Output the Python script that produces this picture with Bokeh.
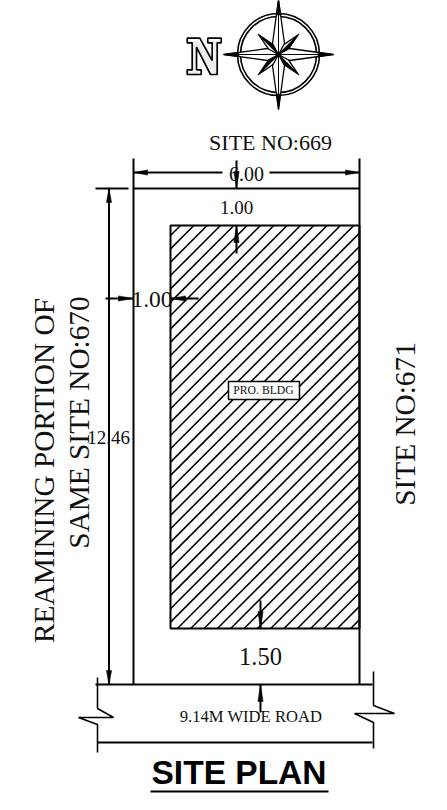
import numpy as np
from bokeh.plotting import figure
from bokeh.embed import file_html
from bokeh.resources import INLINE
from bokeh.core.properties import value

# --- site geometry (picture coordinates) ---
SITE_X = [133, 359]
SITE_TOP, SITE_BOTTOM = 188, 684
BLDG_X = [170, 359]
BLDG_Y = [225, 628]
HATCH_FIRST, HATCH_STEP = 405, 13.33
ROAD_LEFT = ([97, 97, 113, 78, 97, 97], [677, 708, 717, 717, 724, 752])
ROAD_RIGHT = ([373, 373, 394, 354, 373, 373], [671, 705, 713, 713, 722, 748])
LINES = [
    ([133, 133], [158, 684]), ([359, 359], [158, 684]), ([133, 359], [188, 188]),
    ([95, 128], [188, 188]), ([95, 372], [684, 684]), ([97, 372], [742, 742]),
    ([133, 222], [172, 172]), ([269, 359], [172, 172]), ([108.5, 108.5], [188, 684]),
    ([236, 236], [160, 188]), ([236, 236], [225, 253]), ([105, 133], [298, 298]),
    ([170, 198], [298, 298]), ([260, 260], [600, 628]), ([260, 260], [684, 712]),
    ([150, 328], [791, 791]),
]
# arrow tip x, tip y, direction x, direction y, length
ARROWS = [
    (133, 172, -1, 0, 14), (359, 172, 1, 0, 14), (108.5, 188, 0, -1, 14), (108.5, 684, 0, 1, 14),
    (236, 188, 0, 1, 17), (236, 225, 0, -1, 17), (133, 298, 1, 0, 15), (170, 298, -1, 0, 15),
    (260, 628, 0, 1, 17), (260, 684, 0, -1, 17),
]
LABEL_BOX = ([228, 299], [381, 399])

# --- text ---
LABELS = [
    ("SITE NO:669", 270, 142, 22, 0),
    ("6.00", 246, 173, 20, 0),
    ("1.00", 236, 207, 19, 0),
    ("1.00", 151.5, 298.5, 23.5, 0),
    ("12.46", 108, 436.5, 19, 0),
    ("1.50", 260, 655.5, 24.5, 0),
    ("9.14M WIDE ROAD", 250.5, 716, 16.6, 0),
    ("PRO. BLDG", 263, 390, 11.7, 0),
    ("REAMINING PORTION OF", 43, 470, 29.3, np.pi / 2),
    ("SAME SITE NO:670", 78, 422, 29.3, np.pi / 2),
    ("SITE NO:671", 404, 423.5, 29.3, np.pi / 2),
]
TITLE = "SITE PLAN"

# --- north symbol ---
N_OUT_X = [186.7, 199.3, 211.7, 211.7, 207.3, 207.3, 220.7, 220.7, 216.7, 216.7, 210, 196, 196, 200.7, 200.7, 186.7, 186.7, 191.7, 191.7, 186.7]
N_OUT_Y = [37.7, 37.7, 60, 42.3, 42.3, 37.7, 37.7, 42.3, 42.3, 74, 74, 46.7, 69.3, 69.3, 74, 74, 69.3, 69.3, 42.3, 42.3]
COMPASS_C = (278, 54)
COMPASS_R = [41, 38]
MAIN_ARM, MAIN_SIDE, MAIN_OFF, MAIN_TIP = 55, 11, 6, 0.28
DIAG_ARM, DIAG_SIDE, DIAG_OFF = 29, 8, 4

p = figure(width=431, height=794, x_range=(0, 431), y_range=(794, 0),
           x_axis_type=None, y_axis_type=None, toolbar_location=None,
           output_backend="svg", min_border=0, outline_line_color=None,
           background_fill_color="white", border_fill_color="white")
p.grid.visible = False

# building hatch, clipped to the rectangle
segs_x, segs_y = [], []
x0, x1 = BLDG_X
y0, y1 = BLDG_Y
c = HATCH_FIRST - 2 * HATCH_STEP
while c < x1 + y1:
    c += HATCH_STEP
    ax = max(x0, c - y1); bx = min(x1, c - y0)
    if ax < bx:
        segs_x.append([ax, bx]); segs_y.append([c - ax, c - bx])
p.multi_line(segs_x, segs_y, line_color="black", line_width=1.6)
p.quad(left=[x0], right=[x1], top=[y0], bottom=[y1], fill_color=None, line_color="black", line_width=2)

p.multi_line([l[0] for l in LINES], [l[1] for l in LINES], line_color="black", line_width=2)
p.multi_line([ROAD_LEFT[0], ROAD_RIGHT[0]], [ROAD_LEFT[1], ROAD_RIGHT[1]], line_color="black", line_width=1.6)

ax_, ay_ = [], []
for tx, ty, dx, dy, ln in ARROWS:
    bx_, by_ = tx - dx * ln, ty - dy * ln
    ax_.append([tx, bx_ - dy * 2.6, bx_ + dy * 2.6])
    ay_.append([ty, by_ - dx * 2.6, by_ + dx * 2.6])
p.patches(ax_, ay_, fill_color="black", line_color="black", line_width=0.5)

p.quad(left=[LABEL_BOX[0][0]], right=[LABEL_BOX[0][1]], top=[LABEL_BOX[1][0]], bottom=[LABEL_BOX[1][1]],
       fill_color="white", line_color="black", line_width=1.5)

for s, x, y, sz, ang in LABELS:
    p.text([x], [y], text=[s], text_font=value("Liberation Serif"), text_font_size=f"{sz}px",
           text_align="center", text_baseline="middle", angle=ang, text_color="#111111")
p.text([238.5], [772], text=[TITLE], text_font=value("Liberation Sans"), text_font_style="bold",
       text_font_size="33.5px", text_align="center", text_baseline="middle", text_color="black")

# north letter
p.text([203.7], [56], text=["N"], text_font=value("Liberation Serif"), text_font_style="bold",
       text_font_size="50px", text_align="center", text_baseline="middle", text_color="#ececec")
p.patch(N_OUT_X, N_OUT_Y, fill_color=None, line_color="black", line_width=1.7)

# compass
cx, cy = COMPASS_C
for r in COMPASS_R:
    p.circle([cx], [cy], radius=r, fill_color=None, line_color="black", line_width=1.6)

def pt(ang, along, across):
    ux, uy = np.cos(ang), np.sin(ang)
    return cx + ux * along - uy * across, cy + uy * along + ux * across

for i in [1, 3, 5, 7]:
    a = i * np.pi / 4
    pts = [pt(a, DIAG_ARM, 0), pt(a, DIAG_SIDE, DIAG_OFF), pt(a, 0, 0), pt(a, DIAG_SIDE, -DIAG_OFF)]
    p.patch([q[0] for q in pts], [q[1] for q in pts], fill_color="black", line_color="black", line_width=1)
    inner = [pt(a, DIAG_ARM * 0.75, -0.6), pt(a, DIAG_SIDE, -DIAG_OFF + 1), pt(a, 3, -0.6)]
    p.patch([q[0] for q in inner], [q[1] for q in inner], fill_color="white", line_color=None)

for i in [0, 2, 4, 6]:
    a = i * np.pi / 4
    pts = [pt(a, MAIN_ARM, 0), pt(a, MAIN_SIDE, MAIN_OFF), pt(a, 0, 0), pt(a, MAIN_SIDE, -MAIN_OFF)]
    p.patch([q[0] for q in pts], [q[1] for q in pts], fill_color="white", line_color="black", line_width=1.3)
    tip_base = MAIN_ARM * (1 - MAIN_TIP)
    width = MAIN_OFF * (MAIN_ARM - tip_base) / (MAIN_ARM - MAIN_SIDE)
    tip = [pt(a, MAIN_ARM, 0), pt(a, tip_base, width), pt(a, tip_base, -width)]
    p.patch([q[0] for q in tip], [q[1] for q in tip], fill_color="black", line_color="black", line_width=0.8)
    axis_line = [pt(a, tip_base, 0), pt(a, 0, 0)]
    p.line([q[0] for q in axis_line], [q[1] for q in axis_line], line_color="black", line_width=1)

open("out.html", "w").write(file_html(p, INLINE))
